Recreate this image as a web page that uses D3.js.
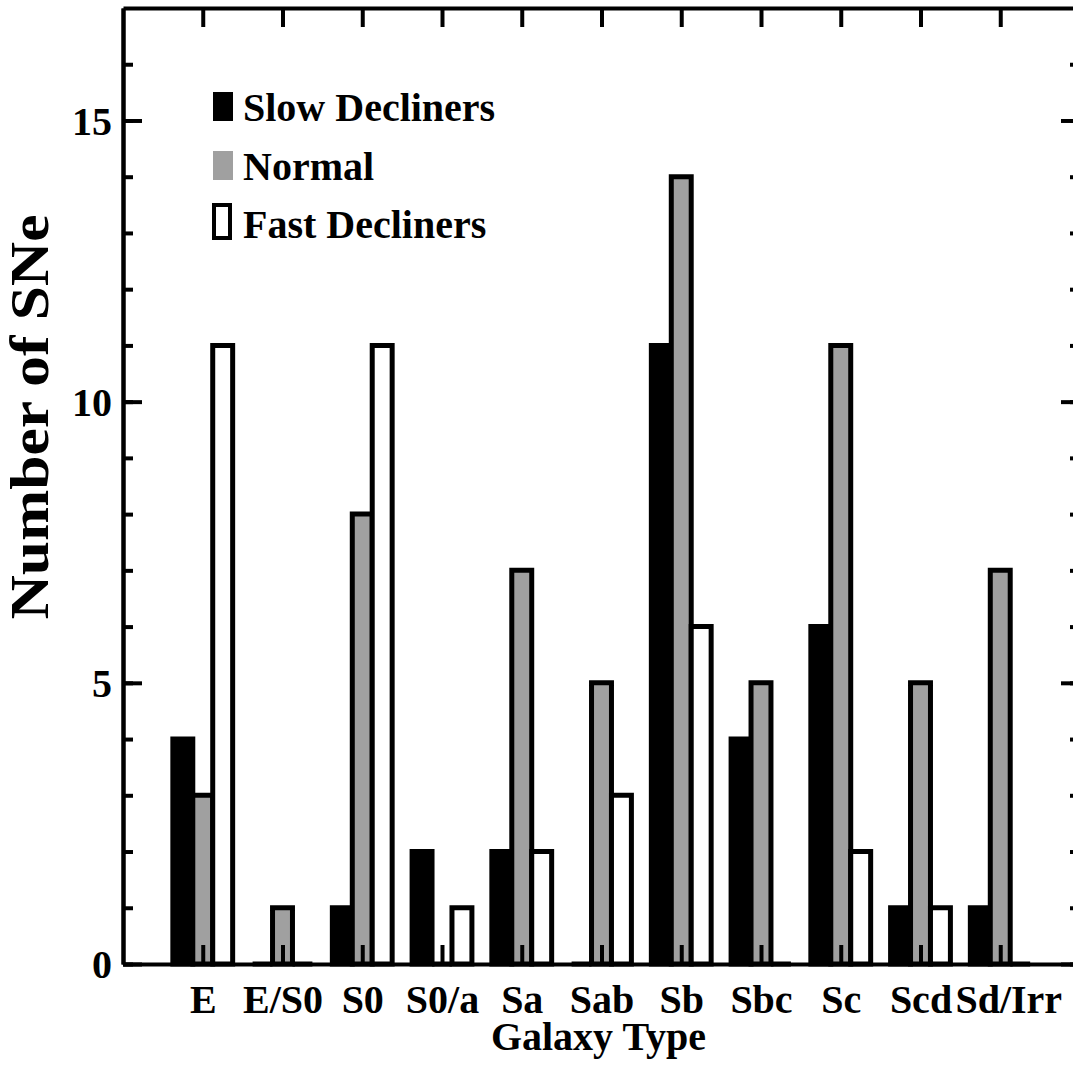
<!DOCTYPE html>
<html>
<head>
<meta charset="utf-8">
<script src="https://cdn.jsdelivr.net/npm/d3@7"></script>
<style>
  html, body { margin: 0; padding: 0; background: #fff; }
  svg text { font-family: "Liberation Serif", "Times New Roman", serif; font-weight: bold; fill: #000; }
</style>
</head>
<body>
<svg id="chart" width="1073" height="1066"></svg>
<script>
// Supernova counts per host galaxy type, split by decline-rate class
const categories = ["E", "E/S0", "S0", "S0/a", "Sa", "Sab", "Sb", "Sbc", "Sc", "Scd", "Sd/Irr"];
const slowDecliners = [4, 0, 1, 2, 2, 0, 11, 4, 6, 1, 1];
const normal        = [3, 1, 8, 0, 7, 5, 14, 5, 11, 5, 7];
const fastDecliners = [11, 0, 11, 1, 2, 3, 6, 0, 2, 1, 0];
const yMajorTicks = [0, 5, 10, 15];
const yMinorTicks = d3.range(0, 17);
const seriesNames = ["Slow Decliners", "Normal", "Fast Decliners"];

const svg = d3.select("#chart");
const plotLeft = 123, plotRight = 1080, plotTop = 8, plotBottom = 964;

const x = d3.scaleLinear().domain([-1, categories.length]).range([plotLeft, plotRight]);
const y = d3.scaleLinear().domain([0, 17]).range([plotBottom, plotTop]);

const barW = 0.25;
const series = [
  { values: slowDecliners, offset: -1.5, fill: "#000" },
  { values: normal,        offset: -0.5, fill: "#a0a0a0" },
  { values: fastDecliners, offset:  0.5, fill: "#fff" }
];

// Bars as closed outlines so that zero counts still show along the baseline
const barsG = svg.append("g");
series.forEach(s => {
  barsG.selectAll(null)
    .data(s.values.map((v, i) => ({ v, i })))
    .join("path")
    .attr("d", d => {
      const x0 = x(d.i + s.offset * barW), x1 = x(d.i + (s.offset + 1) * barW);
      const y0 = y(0), y1 = y(d.v);
      return `M${x0},${y0}V${y1}H${x1}V${y0}Z`;
    })
    .attr("fill", s.fill)
    .attr("stroke", "#000")
    .attr("stroke-width", 5)
    .attr("stroke-linejoin", "miter");
});

// Axes on all four sides, ticks pointing inward
const idx = d3.range(categories.length);
const styleAxis = g => {
  g.select(".domain").attr("stroke", "#000").attr("stroke-width", 4);
  g.selectAll(".tick line").attr("stroke", "#000").attr("stroke-width", 4);
};

svg.append("g").attr("transform", `translate(0,${plotBottom})`)
  .call(d3.axisBottom(x).tickValues(idx).tickSizeInner(-19).tickSizeOuter(0)
        .tickFormat(i => categories[i]))
  .call(styleAxis)
  .call(g => g.selectAll(".tick text")
     .attr("y", 49).attr("dy", 0).attr("font-size", 40)
     .attr("dx", i => (i === categories.length - 1 ? 8 : 0))
     .attr("font-family", null));

svg.append("g").attr("transform", `translate(0,${plotTop})`)
  .call(d3.axisTop(x).tickValues(idx).tickSizeInner(-19).tickSizeOuter(0).tickFormat(""))
  .call(styleAxis);

svg.append("g").attr("transform", `translate(${plotLeft},0)`)
  .call(d3.axisLeft(y).tickValues(yMinorTicks).tickSizeInner(-10).tickSizeOuter(0).tickFormat(""))
  .call(styleAxis);
svg.append("g").attr("transform", `translate(${plotLeft},0)`)
  .call(d3.axisLeft(y).tickValues(yMajorTicks).tickSizeInner(-19).tickSizeOuter(0).tickPadding(11)
        .tickFormat(d3.format("d")))
  .call(styleAxis)
  .call(g => g.selectAll(".tick text")
     .attr("x", -11).attr("dy", "0.34em").attr("font-size", 40)
     .attr("font-family", null));

svg.append("g").attr("transform", `translate(${plotRight},0)`)
  .call(d3.axisRight(y).tickValues(yMinorTicks).tickSizeInner(-10).tickSizeOuter(0).tickFormat(""))
  .call(styleAxis);
svg.append("g").attr("transform", `translate(${plotRight},0)`)
  .call(d3.axisRight(y).tickValues(yMajorTicks).tickSizeInner(-19).tickSizeOuter(0).tickFormat(""))
  .call(styleAxis);

// Axis titles
svg.append("text")
  .attr("x", (plotLeft + plotRight) / 2 - 3).attr("y", 1050)
  .attr("text-anchor", "middle").attr("font-size", 40)
  .text("Galaxy Type");

svg.append("text")
  .attr("transform", `translate(48,417) rotate(-90)`)
  .attr("text-anchor", "middle").attr("font-size", 54)
  .attr("textLength", 405).attr("lengthAdjust", "spacingAndGlyphs")
  .text("Number of SNe");

// Legend
const legend = svg.append("g");
legend.append("rect").attr("x", 213).attr("y", 92).attr("width", 20).attr("height", 29).attr("fill", "#000");
legend.append("rect").attr("x", 213).attr("y", 151).attr("width", 20).attr("height", 29).attr("fill", "#a0a0a0");
legend.append("rect").attr("x", 214).attr("y", 205).attr("width", 16).attr("height", 33)
  .attr("fill", "#fff").attr("stroke", "#000").attr("stroke-width", 4);
legend.selectAll("text.lg")
  .data(seriesNames)
  .join("text")
  .attr("class", "lg")
  .attr("x", 243)
  .attr("y", (d, i) => [121, 180, 238][i])
  .attr("font-size", 40)
  .text(d => d);
</script>
</body>
</html>
